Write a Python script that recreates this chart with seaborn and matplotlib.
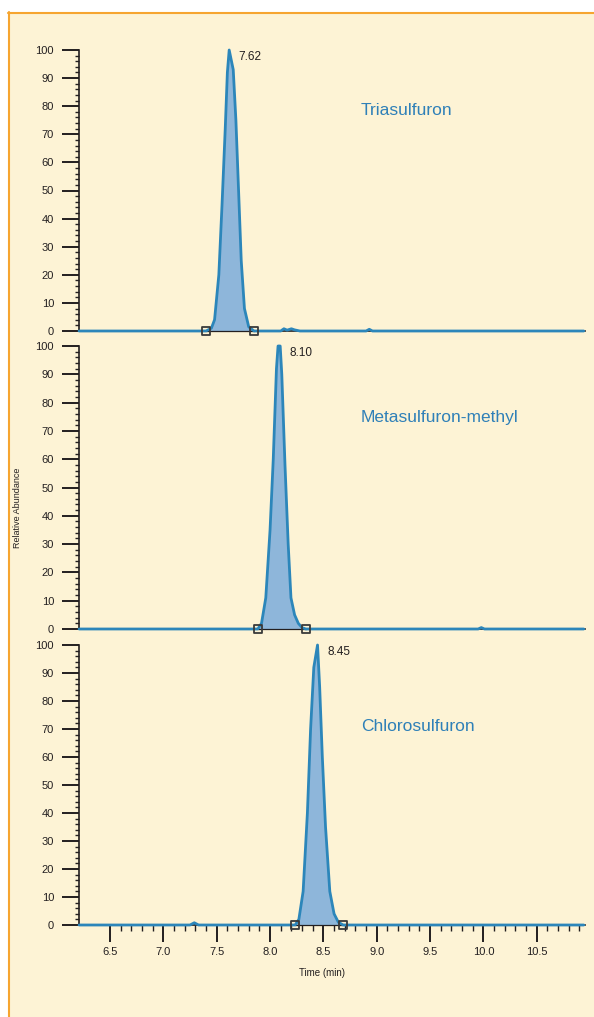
import numpy as np
import pandas as pd
import matplotlib
matplotlib.use("Agg")
import matplotlib.pyplot as plt
import seaborn as sns
from matplotlib.patches import Rectangle
from matplotlib.lines import Line2D
from matplotlib.ticker import MultipleLocator, FixedLocator

# ---------------- data ----------------
compounds = ["Triasulfuron", "Metasulfuron-methyl", "Chlorosulfuron"]
peak_rt = [7.62, 8.10, 8.45]
peak_start = [7.40, 7.885, 8.235]
peak_end = [7.85, 8.335, 8.685]

t1 = [6.21, 7.30, 7.40, 7.45, 7.48, 7.52, 7.55, 7.58, 7.60, 7.617, 7.655, 7.68, 7.70,
      7.73, 7.76, 7.80, 7.85, 8.10, 8.13, 8.16, 8.20, 8.23, 8.28, 8.90, 8.93, 8.96, 10.94]
y1 = [0, 0, 0, 1, 4, 20, 45, 72, 92, 100, 93, 75, 55,
      25, 8, 1.5, 0, 0, 0.8, 0.3, 0.8, 0.4, 0, 0, 0.6, 0, 0]

t2 = [6.21, 7.70, 7.885, 7.92, 7.96, 8.00, 8.03, 8.06, 8.075, 8.095, 8.11, 8.14, 8.17,
      8.196, 8.23, 8.265, 8.30, 8.335, 9.95, 9.98, 10.01, 10.94]
y2 = [0, 0, 0, 2, 11, 35, 60, 92, 100, 100, 90, 58, 30,
      11, 5, 2, 0.5, 0, 0, 0.5, 0, 0]

t3 = [6.21, 7.25, 7.29, 7.33, 8.235, 8.27, 8.31, 8.35, 8.38, 8.41, 8.445, 8.465, 8.49,
      8.52, 8.56, 8.60, 8.64, 8.685, 10.94]
y3 = [0, 0, 0.8, 0, 0, 2, 12, 40, 70, 92, 100, 85, 60,
      35, 12, 4, 1, 0, 0]

traces_t = [t1, t2, t3]
traces_y = [y1, y2, y3]

x_major = [6.5, 7.0, 7.5, 8.0, 8.5, 9.0, 9.5, 10.0, 10.5]
x_labels = ["6.5", "7.0", "7.5", "8.0", "8.5", "9.0", "9.5", "10.0", "10.5"]
y_major = [0, 10, 20, 30, 40, 50, 60, 70, 80, 90, 100]

# ---------------- style ----------------
sns.set_style("white")
plt.rcParams["font.family"] = ["Liberation Sans Narrow", "Liberation Sans", "DejaVu Sans"]

W, H = 594, 1017
fig = plt.figure(figsize=(W / 100, H / 100), dpi=100)
fig.patch.set_facecolor("white")

cream = "#FDF3D5"
orange = "#F6A530"
line_blue = "#2C86BA"
fill_blue = "#8EB6DA"
ink = "#231F20"
title_blue = "#2F80B8"

def fx(px):
    return px / W

def fy(py):
    return 1 - py / H

# background panel with orange top/left border
fig.patches.append(Rectangle((fx(8), 0), 1 - fx(8), fy(12), transform=fig.transFigure,
                             facecolor=cream, edgecolor="none", zorder=-10))
fig.lines.append(Line2D([fx(8), 1], [fy(12.5), fy(12.5)], transform=fig.transFigure,
                        color=orange, lw=1.5, zorder=-5))
fig.lines.append(Line2D([fx(8.5), fx(8.5)], [0, fy(12)], transform=fig.transFigure,
                        color=orange, lw=1.5, zorder=-5))

panels_px = [(50, 331), (346, 629), (645, 925)]
left_px, right_px = 79, 585
xmin = 6.5 - (110 - left_px) / 106.7
xmax = 6.5 + (right_px - 110) / 106.7

label_x = [7.70, 8.18, 8.54]
label_y = [97.5, 97.5, 97.5]
title_y = [78.3, 74.6, 71.0]

axes = []
for i, (top, bot) in enumerate(panels_px):
    ax = fig.add_axes([fx(left_px), fy(bot), fx(right_px) - fx(left_px), fy(top) - fy(bot)])
    ax.set_facecolor("none")
    axes.append(ax)
    df = pd.DataFrame({"t": traces_t[i], "y": traces_y[i]})
    m = (df["t"] >= peak_start[i]) & (df["t"] <= peak_end[i])
    ax.fill_between(df["t"][m], 0, df["y"][m], color=fill_blue, lw=0, zorder=2)
    ax.plot([peak_start[i], peak_end[i]], [0, 0], color=ink, lw=0.9, zorder=3)
    sns.lineplot(data=df, x="t", y="y", ax=ax, color=line_blue, lw=2.0, zorder=4,
                 estimator=None, sort=False)
    for ln in ax.lines:
        ln.set_clip_on(False)
    ax.scatter([peak_start[i], peak_end[i]], [0, 0], marker="s", s=32, facecolor="none",
               edgecolor="#3a3a3a", linewidth=1.3, zorder=5, clip_on=False)
    ax.text(label_x[i], label_y[i], f"{peak_rt[i]:.2f}",
            fontsize=8.5, color=ink, ha="left", va="center")
    ax.text(8.85, title_y[i], compounds[i], fontsize=12.5, color=title_blue,
            ha="left", va="center")

    ax.set_xlim(xmin, xmax)
    ax.set_ylim(0, 100)
    ax.set_xlabel("")
    ax.set_ylabel("")
    for s in ["top", "right"]:
        ax.spines[s].set_visible(False)
    ax.spines["left"].set_color(ink)
    ax.spines["left"].set_linewidth(1.2)
    ax.spines["bottom"].set_color(ink)
    ax.spines["bottom"].set_linewidth(1.2)
    ax.spines["bottom"].set_zorder(1)
    ax.yaxis.set_major_locator(FixedLocator(y_major))
    ax.yaxis.set_minor_locator(MultipleLocator(2))
    ax.tick_params(axis="y", which="major", direction="out", length=12, width=1.4,
                   color=ink, labelsize=8, labelcolor=ink, pad=6, left=True)
    ax.tick_params(axis="y", which="minor", direction="out", length=3, width=1.0,
                   color=ink, left=True)
    if i < 2:
        ax.tick_params(axis="x", which="both", bottom=False, labelbottom=False)
    else:
        ax.xaxis.set_major_locator(FixedLocator(x_major))
        ax.set_xticklabels(x_labels)
        ax.xaxis.set_minor_locator(FixedLocator(np.round(np.arange(6.5, 10.95, 0.1), 2)))
        ax.tick_params(axis="x", which="major", direction="out", length=12, width=1.4,
                       color=ink, labelsize=8, labelcolor=ink, pad=4, bottom=True)
        ax.tick_params(axis="x", which="minor", direction="out", length=4, width=1.0,
                       color=ink, bottom=True)

fig.text(fx(322), fy(973), "Time (min)", fontsize=7, color=ink, ha="center", va="center")
fig.text(fx(18), fy(508), "Relative Abundance", fontsize=6.5, color=ink, ha="center",
         va="center", rotation=90)

fig.savefig("out.png", dpi=100, facecolor="white")
